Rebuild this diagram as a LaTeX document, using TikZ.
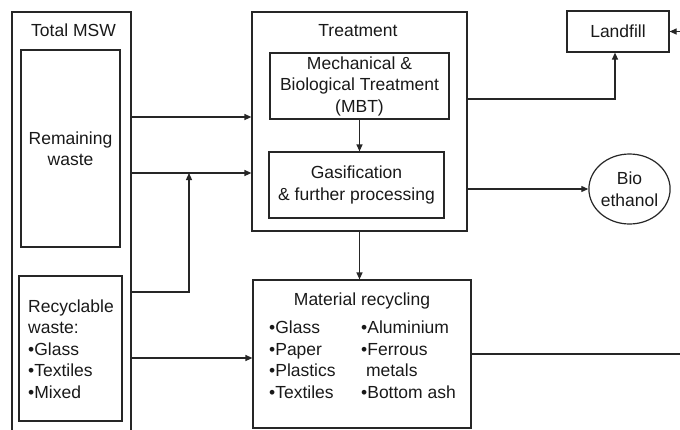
\documentclass[tikz,border=0pt]{standalone}
\usepackage{fontspec}
\setmainfont{Liberation Sans}
\usetikzlibrary{arrows.meta,shapes.geometric}
\begin{document}
\begin{tikzpicture}[x=1pt,y=-1pt,
  every node/.style={font=\fontsize{17.5}{21.5}\selectfont, text=black!90, inner sep=0pt},
  box/.style={draw=black!85, line width=1.2pt, rectangle},
  lbl/.style={align=center},
  conn/.style={draw=black!85, line width=1.2pt},
  arr/.style={conn, -{Triangle[length=7pt,width=6pt]}}]
\useasboundingbox (0,0) rectangle (680,429);
\clip (0,0) rectangle (680,429);
% Total MSW
\node[box, minimum width=119pt, minimum height=440pt] (msw) at (71.5,232) {};
\node[lbl] (mswt) at (73.5,30) {Total MSW};
\node[box, minimum width=99pt, minimum height=197pt, lbl] (rem) at (70.5,148.5) {Remaining\\waste};
\node[box, minimum width=103pt, minimum height=145pt] (rec) at (70.5,348.5) {};
\node[align=left, anchor=west] (rect) at (28,349) {Recyclable\\waste:\\•Glass\\•Textiles\\•Mixed};
% Treatment
\node[box, minimum width=215pt, minimum height=219pt] (treat) at (359.5,121.5) {};
\node[lbl] (treatt) at (358,31) {Treatment};
\node[box, minimum width=179pt, minimum height=66pt, lbl] (mbt) at (359.5,86) {Mechanical \&\\Biological Treatment\\(MBT)};
\node[box, minimum width=175pt, minimum height=66pt, lbl] (gas) at (356.5,185) {Gasification\\\& further processing};
% Landfill and bio ethanol
\node[box, minimum width=102pt, minimum height=41pt] (land) at (618,31.5) {Landfill};
\node[draw=black!85, line width=1.2pt, ellipse, minimum width=75pt, minimum height=70pt, lbl] (bio) at (629.5,189) {Bio\\ethanol};
% Material recycling
\node[box, minimum width=218pt, minimum height=148pt] (mr) at (362,354) {};
\node[lbl] (mrt) at (362,301) {Material recycling};
\node[align=left, anchor=north west] (mrl) at (269,321) {•Glass\\•Paper\\•Plastics\\•Textiles};
\node[align=left, anchor=north west] (mrr) at (361,321) {•Aluminium\\•Ferrous\\\ metals\\•Bottom ash};
% coordinates
\coordinate (y1) at (0,117);
\coordinate (y2) at (0,173);
\coordinate (y3) at (0,292);
\coordinate (y4) at (0,358);
\coordinate (j) at (189,173);
\coordinate (k) at (189,292);
\coordinate (lc) at (615,99);
\coordinate (redge) at (682,31.5);
\coordinate (redge2) at (682,354);
% connectors
\draw[arr] (msw.east |- y1) -- (treat.west |- y1);
\draw[arr] (msw.east |- y2) -- (treat.west |- y2);
\draw[arr] (msw.east |- y3) -- (k) -- (j);
\draw[arr] (msw.east |- y4) -- (mr.west |- y4);
\draw[arr] (mbt.south) -- (mbt.south |- gas.north);
\draw[arr] (treat.south) -- (treat.south |- mr.north);
\draw[arr] (treat.east |- lc) -- (lc) -- (lc |- land.south);
\draw[arr] (treat.east |- bio.west) -- (bio.west);
\draw[arr] (redge) -- (land.east);
\draw[conn] (mr.east |- redge2) -- (redge2);
\end{tikzpicture}
\end{document}
